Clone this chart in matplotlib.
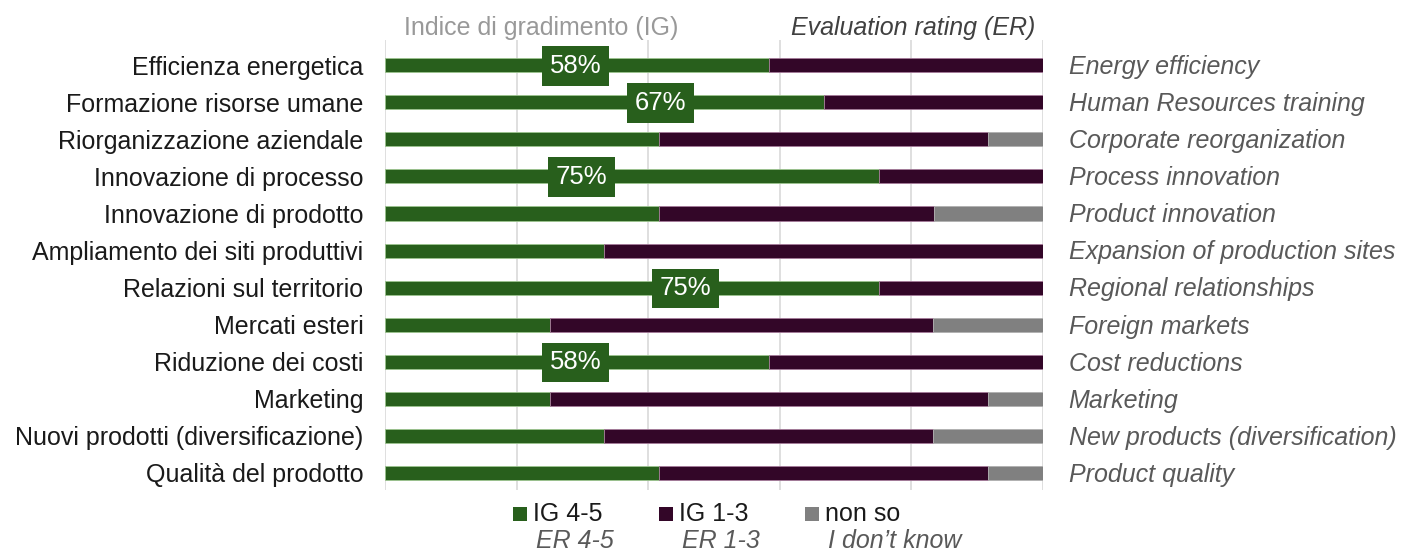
import numpy as np
import matplotlib.pyplot as plt
from matplotlib.patches import Rectangle

plt.rcParams['font.family'] = ['Liberation Sans', 'DejaVu Sans']

# categories (top to bottom)
cat_it = ['Efficienza energetica', 'Formazione risorse umane', 'Riorganizzazione aziendale',
          'Innovazione di processo', 'Innovazione di prodotto', 'Ampliamento dei siti produttivi',
          'Relazioni sul territorio', 'Mercati esteri', 'Riduzione dei costi', 'Marketing',
          'Nuovi prodotti (diversificazione)', 'Qualità del prodotto']
cat_en = ['Energy efficiency', 'Human Resources training', 'Corporate reorganization',
          'Process innovation', 'Product innovation', 'Expansion of production sites',
          'Regional relationships', 'Foreign markets', 'Cost reductions', 'Marketing',
          'New products (diversification)', 'Product quality']

# shares in %
ig45 = [58.3, 66.7, 41.7, 75.0, 41.7, 33.3, 75.0, 25.0, 58.3, 25.0, 33.3, 41.7]
ig13 = [41.7, 33.3, 50.0, 25.0, 41.7, 66.7, 25.0, 58.3, 41.7, 66.7, 50.0, 50.0]
nonso = [0.0, 0.0, 8.3, 0.0, 16.7, 0.0, 0.0, 16.7, 0.0, 8.3, 16.7, 8.3]

# data labels: bar index, text, x position (as placed in the original)
lab_idx = [0, 1, 3, 6, 8]
lab_txt = ['58%', '67%', '75%', '75%', '58%']
lab_x = [29.0, 41.8, 29.8, 45.6, 29.0]

c_green = '#285f1c'
c_purple = '#330628'
c_gray = '#808080'
fs = 18

fig = plt.figure(figsize=(14.05, 5.55), dpi=100)
ax = fig.add_axes([385/1405, 1-490/555, 658/1405, 450/555])

y = np.arange(len(cat_it))
h = 0.38
ig45 = np.array(ig45); ig13 = np.array(ig13); nonso = np.array(nonso)
ax.barh(y, ig45, height=h, color=c_green, edgecolor='#9cc48f', linewidth=0.6, zorder=2)
ax.barh(y, ig13, left=ig45, height=h, color=c_purple, edgecolor='#a57a99', linewidth=0.6, zorder=2)
ax.barh(y, nonso, left=ig45+ig13, height=h, color=c_gray, edgecolor='#b0b0b0', linewidth=0.6, zorder=2)

for i, t, x in zip(lab_idx, lab_txt, lab_x):
    ax.text(x, y[i] + 0.02, t, ha='center', va='center', color='white', fontsize=18.5, zorder=4,
            bbox=dict(boxstyle='square,pad=0.3', facecolor=c_green, edgecolor='none'))

ax.set_xlim(0, 100)
ax.set_ylim(11.46, -0.68)
for gx in range(0, 101, 20):
    ax.axvline(gx, color='#d9d9d9', linewidth=1.2, zorder=1)
for s in ax.spines.values():
    s.set_visible(False)
ax.set_xticks([])
ax.set_yticks(y)
ax.set_yticklabels(cat_it, fontsize=fs, color='#1a1a1a')
ax.tick_params(axis='y', length=0, pad=15.5)

for yi, t in zip(y, cat_en):
    ax.text(103.9, yi + 0.05, t, ha='left', va='center', fontsize=fs, style='italic', color='#595959')

fig.text(541/1405, 1-28/555, 'Indice di gradimento (IG)', ha='center', va='center',
         fontsize=fs, color='#999999')
fig.text(1035/1405, 1-28/555, 'Evaluation rating (ER)', ha='right', va='center',
         fontsize=fs, style='italic', color='#404040')

# legend
leg_x = [513, 659, 805]
leg_c = [c_green, c_purple, c_gray]
leg_t = ['IG 4-5', 'IG 1-3', 'non so']
leg_e = ['ER 4-5', 'ER 1-3', 'I don\u2019t know']
for lx, lc, lt, le in zip(leg_x, leg_c, leg_t, leg_e):
    fig.patches.append(Rectangle((lx/1405, 1-521/555), 14/1405, 14/555,
                                 transform=fig.transFigure, facecolor=lc, edgecolor='none'))
    fig.text((lx+20)/1405, 1-514/555, lt, ha='left', va='center', fontsize=fs, color='#1a1a1a')
    fig.text((lx+23)/1405, 1-541/555, le, ha='left', va='center', fontsize=fs,
             style='italic', color='#595959')

fig.savefig('out.png', dpi=100)
